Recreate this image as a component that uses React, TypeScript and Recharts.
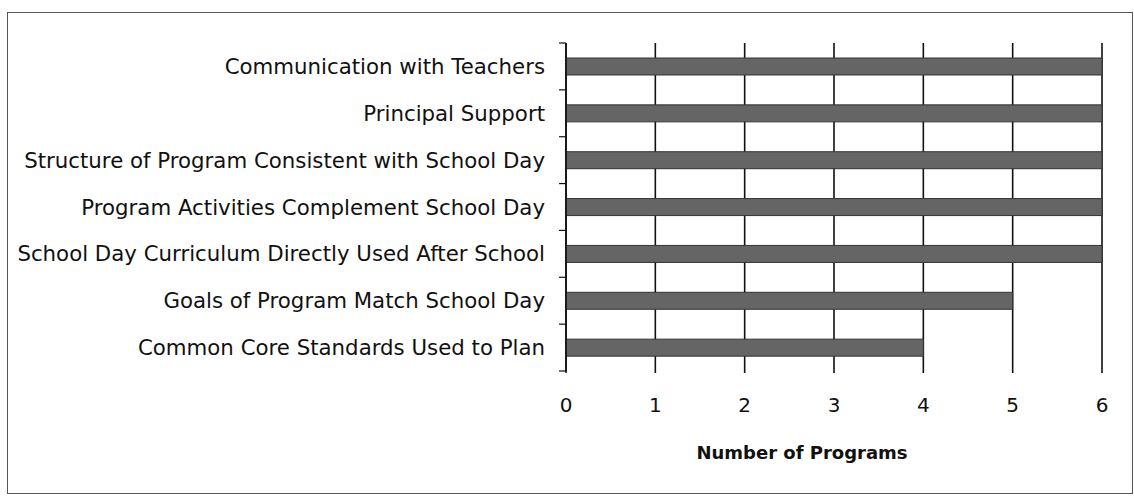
import { BarChart, Bar, XAxis, YAxis, CartesianGrid } from 'recharts';

const categories = [
  'Communication with Teachers',
  'Principal Support',
  'Structure of Program Consistent with School Day',
  'Program Activities Complement School Day',
  'School Day Curriculum Directly Used After School',
  'Goals of Program Match School Day',
  'Common Core Standards Used to Plan',
];
const programCounts = [6, 6, 6, 6, 6, 5, 4];
const xTicks = [0, 1, 2, 3, 4, 5, 6];

const data = categories.map((name, i) => ({ name, value: programCounts[i] }));

const FONT = '"DejaVu Sans", sans-serif';
const TICK_SIZE = 6;
const TICK_MARGIN = 15;

// category label plus the little tick marks that sit on the band edges
// eslint-disable-next-line @typescript-eslint/no-explicit-any
function CategoryTick(props: any) {
  const { x, y, payload, index, visibleTicksCount } = props;
  const half = payload?.offset ?? 0;
  const axisX = x + TICK_SIZE + TICK_MARGIN;
  const isLast = index === (visibleTicksCount ?? categories.length) - 1;
  return (
    <g>
      <line x1={axisX - 7} x2={axisX} y1={y - half} y2={y - half} stroke="#111" strokeWidth={1.2} />
      {isLast && (
        <line x1={axisX - 7} x2={axisX} y1={y + half} y2={y + half} stroke="#111" strokeWidth={1.2} />
      )}
      <text
        x={x}
        y={y}
        textAnchor="end"
        dominantBaseline="central"
        fill="#111"
        fontSize={21.3}
        fontFamily={FONT}
      >
        {payload.value}
      </text>
    </g>
  );
}

export default function App() {
  return (
    <div style={{ position: 'absolute', left: 0, top: 0, width: 1134, height: 500, background: '#fff' }}>
      {/* scanned page frame */}
      <div
        style={{
          position: 'absolute',
          left: 7,
          top: 12,
          width: 1124,
          height: 480,
          border: '1px solid #555',
        }}
      />
      <BarChart
        width={1134}
        height={500}
        data={data}
        layout="vertical"
        margin={{ top: 43, right: 32, left: 0, bottom: 0 }}
        style={{ position: 'absolute', left: 0, top: 0 }}
      >
        <CartesianGrid horizontal={false} stroke="#111" strokeWidth={1.6} />
        <XAxis
          type="number"
          domain={[0, 6]}
          ticks={xTicks}
          axisLine={false}
          tickLine={{ stroke: '#111', strokeWidth: 1.6 }}
          tickSize={2}
          tickMargin={25}
          height={129}
          tick={{ fill: '#111', fontSize: 20, fontFamily: FONT }}
          label={{
            value: 'Number of Programs',
            position: 'insideBottom',
            offset: 41,
            dx: -32,
            fill: '#111',
            fontSize: 18,
            fontWeight: 'bold',
            fontFamily: FONT,
          }}
        />
        <YAxis
          type="category"
          dataKey="name"
          width={566}
          axisLine={{ stroke: '#111', strokeWidth: 1.6 }}
          tickLine={false}
          tickSize={TICK_SIZE}
          tickMargin={TICK_MARGIN}
          interval={0}
          tick={<CategoryTick />}
        />
        <Bar
          dataKey="value"
          fill="#656565"
          stroke="#333"
          strokeWidth={1}
          barSize={17}
          isAnimationActive={false}
        />
      </BarChart>
    </div>
  );
}
